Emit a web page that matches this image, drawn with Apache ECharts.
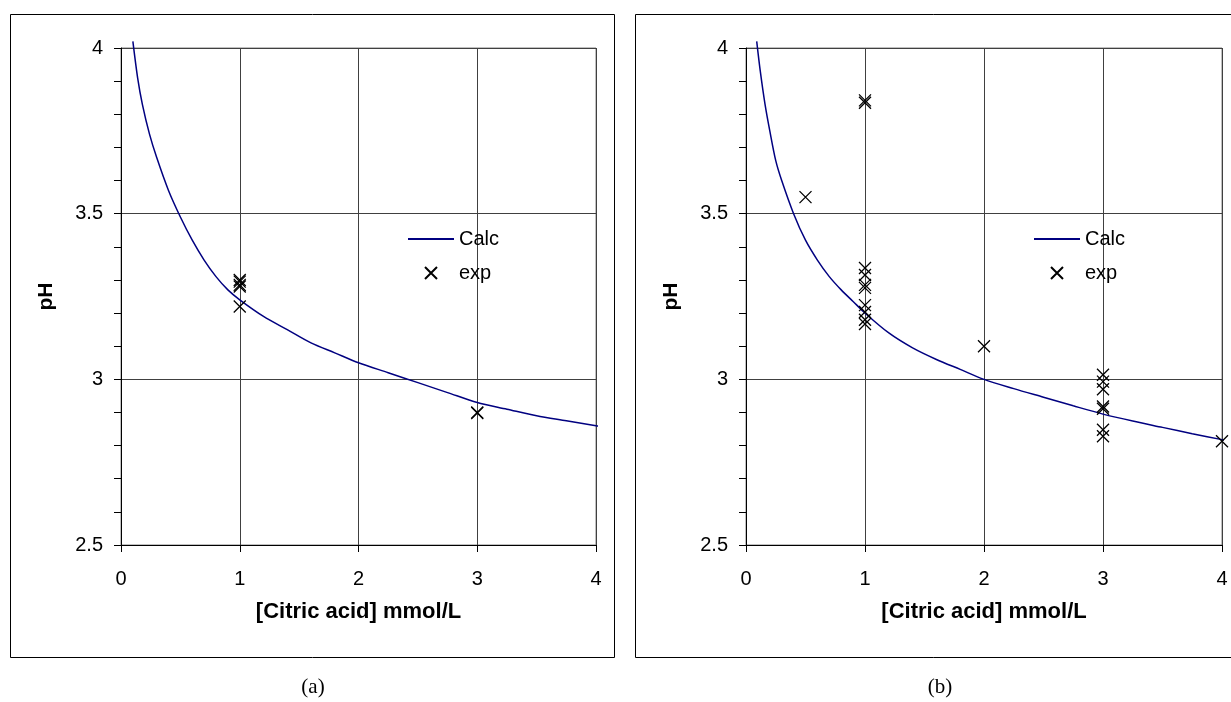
<!DOCTYPE html>
<html><head><meta charset="utf-8">
<script src="https://cdn.jsdelivr.net/npm/echarts@6/dist/echarts.min.js"></script>
<style>html,body{margin:0;padding:0;background:#fff}#c{width:1231px;height:702px}</style>
</head><body><div id="c"></div>
<script>
// Data
const xTicks = [0, 1, 2, 3, 4];
const yTicks = [2.5, 3, 3.5, 4];
const calcAX = [0.10, 0.14, 0.18, 0.24, 0.30, 0.40, 0.50, 0.60, 0.70, 0.80, 0.90, 1.00, 1.20, 1.40, 1.60, 1.80, 2.00, 2.25, 2.50, 2.75, 3.00, 3.25, 3.50, 3.75, 4.00, 4.07];
const calcAY = [4.02, 3.91, 3.83, 3.74, 3.67, 3.57, 3.49, 3.42, 3.36, 3.31, 3.27, 3.24, 3.19, 3.15, 3.11, 3.08, 3.05, 3.02, 2.99, 2.96, 2.93, 2.91, 2.89, 2.875, 2.86, 2.855];
const calcBX = [0.09, 0.12, 0.16, 0.20, 0.25, 0.30, 0.40, 0.50, 0.60, 0.70, 0.80, 0.90, 1.00, 1.20, 1.40, 1.60, 1.80, 2.00, 2.25, 2.50, 2.75, 3.00, 3.25, 3.50, 3.75, 4.00, 4.07];
const calcBY = [4.02, 3.93, 3.83, 3.75, 3.66, 3.60, 3.50, 3.42, 3.36, 3.31, 3.27, 3.235, 3.20, 3.14, 3.095, 3.06, 3.03, 3.00, 2.972, 2.946, 2.92, 2.895, 2.874, 2.855, 2.836, 2.818, 2.813];
const expAX = [1, 1, 1, 1, 1, 3, 3];
const expAY = [3.30, 3.295, 3.285, 3.28, 3.22, 2.90, 2.898];
const expBX = [0.5, 1, 1, 1, 1, 1, 1, 1, 1, 1, 1, 2, 3, 3, 3, 3, 3, 3, 3, 4];
const expBY = [3.55, 3.842, 3.835, 3.336, 3.315, 3.285, 3.276, 3.224, 3.203, 3.18, 3.167, 3.10, 3.014, 2.993, 2.97, 2.918, 2.911, 2.848, 2.828, 2.813];
const captions = ['(a)', '(b)'];
const xName = '[Citric acid] mmol/L';
const yName = 'pH';

const zip = (a, b) => a.map((v, i) => [v, b[i]]);
const FONT = '"Liberation Sans", Arial, sans-serif';
const SERIF = '"Liberation Serif", "Times New Roman", serif';
const XPATH = 'path://M0,0L10,10M10,0L0,10';
const gridColor = '#404040';

function xAxis(gi) {
  return {
    gridIndex: gi, type: 'value', min: xTicks[0], max: xTicks[xTicks.length - 1], interval: 1,
    name: xName, nameLocation: 'middle', nameGap: 56,
    nameTextStyle: { fontFamily: FONT, fontSize: 22, fontWeight: 'bold', color: '#000' },
    axisLine: { show: true, onZero: false, lineStyle: { color: '#000', width: 1 } },
    axisTick: { show: true, inside: false, length: 7, lineStyle: { color: '#000' } },
    axisLabel: { fontFamily: FONT, fontSize: 20, color: '#000', margin: 24 },
    splitLine: { show: true, lineStyle: { color: gridColor, width: 1 } }
  };
}
function yAxis(gi) {
  return {
    gridIndex: gi, type: 'value', min: yTicks[0], max: yTicks[yTicks.length - 1], interval: 0.5,
    name: yName, nameLocation: 'middle', nameGap: 64, nameRotate: 90,
    nameTextStyle: { fontFamily: FONT, fontSize: 21, fontWeight: 'bold', color: '#000' },
    axisLine: { show: true, onZero: false, lineStyle: { color: '#000', width: 1 } },
    axisTick: { show: true, inside: false, length: 7, lineStyle: { color: '#000' } },
    minorTick: { show: true, splitNumber: 5, length: 7, lineStyle: { color: '#000' } },
    axisLabel: { fontFamily: FONT, fontSize: 20, color: '#000', margin: 18 },
    splitLine: { show: true, lineStyle: { color: gridColor, width: 1 } }
  };
}
function lineSeries(gi, xs, ys) {
  return {
    name: 'Calc', type: 'line', xAxisIndex: gi, yAxisIndex: gi, data: zip(xs, ys),
    smooth: 0.3, symbol: 'none', clip: false,
    lineStyle: { color: '#000080', width: 1.5 }, itemStyle: { color: '#000080' }, z: 3
  };
}
function expSeries(gi, xs, ys) {
  return {
    name: 'exp', type: 'scatter', xAxisIndex: gi, yAxisIndex: gi, data: zip(xs, ys),
    symbol: XPATH, symbolSize: 12, clip: false,
    itemStyle: { color: 'rgba(0,0,0,0)', borderColor: '#000', borderWidth: 1.3, opacity: 1 }, z: 4
  };
}
function legend(left) {
  return {
    left: left, top: 229, orient: 'vertical', padding: 0, itemWidth: 46, itemHeight: 12, itemGap: 14,
    selectedMode: false,
    textStyle: { fontFamily: FONT, fontSize: 20, color: '#000' },
    data: [
      { name: 'Calc', itemStyle: { color: 'rgba(0,0,0,0)', borderWidth: 0, opacity: 0 } },
      { name: 'exp', icon: XPATH }
    ]
  };
}

const chart = echarts.init(document.getElementById('c'), null, { renderer: 'canvas' });
chart.setOption({
  backgroundColor: '#fff',
  animation: false,
  title: [
    { text: captions[0], left: 313, top: 677, textAlign: 'center', padding: 0,
      textStyle: { fontFamily: SERIF, fontSize: 21, fontWeight: 'normal', color: '#000' } },
    { text: captions[1], left: 940, top: 677, textAlign: 'center', padding: 0,
      textStyle: { fontFamily: SERIF, fontSize: 21, fontWeight: 'normal', color: '#000' } }
  ],
  grid: [
    { left: 121, top: 48, width: 475, height: 497, show: true, borderColor: '#808080', borderWidth: 1, backgroundColor: '#fff' },
    { left: 746, top: 48, width: 476, height: 497, show: true, borderColor: '#808080', borderWidth: 1, backgroundColor: '#fff' }
  ],
  xAxis: [xAxis(0), xAxis(1)],
  yAxis: [yAxis(0), yAxis(1)],
  legend: [legend(407), legend(1033)],
  series: [
    lineSeries(0, calcAX, calcAY), expSeries(0, expAX, expAY),
    lineSeries(1, calcBX, calcBY), expSeries(1, expBX, expBY)
  ],
  graphic: [
    { type: 'rect', shape: { x: 10.5, y: 14.5, width: 604, height: 643 }, style: { fill: 'none', stroke: '#000', lineWidth: 1 }, z: -1, silent: true },
    { type: 'rect', shape: { x: 635.5, y: 14.5, width: 610, height: 643 }, style: { fill: 'none', stroke: '#000', lineWidth: 1 }, z: -1, silent: true }
  ]
});
</script></body></html>
